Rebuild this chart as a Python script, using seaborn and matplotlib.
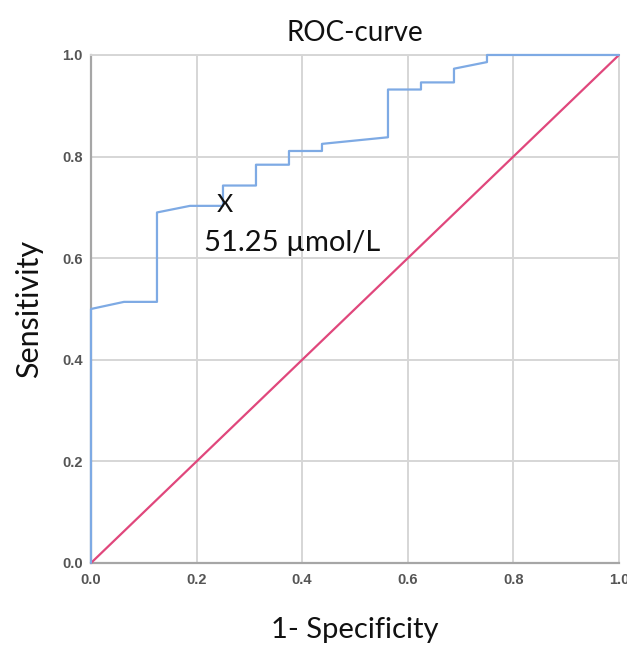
import matplotlib.pyplot as plt
import pandas as pd
import seaborn as sns

sns.set_theme(style="whitegrid")
plt.rcParams['font.family'] = ['Lato', 'DejaVu Sans']

# ROC curve (1 - specificity, sensitivity)
fpr = [0.0, 0.0, 0.0625, 0.125, 0.125, 0.1875, 0.25, 0.25, 0.3125, 0.3125,
       0.375, 0.375, 0.4375, 0.4375, 0.5625, 0.5625, 0.625, 0.625, 0.6875,
       0.6875, 0.75, 0.75, 1.0]
tpr = [0.0, 0.5, 0.514, 0.514, 0.69, 0.703, 0.703, 0.743, 0.743, 0.784,
       0.784, 0.811, 0.811, 0.825, 0.838, 0.932, 0.932, 0.946, 0.946,
       0.973, 0.986, 1.0, 1.0]

ref_line = [0.0, 1.0]

cutoff_x = 0.254
cutoff_y = 0.705
cutoff_label = "51.25 \u00b5mol/L"

ticks = [0.0, 0.2, 0.4, 0.6, 0.8, 1.0]
tick_labels = ["0.0", "0.2", "0.4", "0.6", "0.8", "1.0"]

roc = pd.DataFrame({"fpr": fpr, "tpr": tpr})

fig = plt.figure(figsize=(6.27, 6.46), dpi=100)
ax = fig.add_axes([0.1451, 0.1285, 0.8421, 0.7864])

sns.lineplot(
    x=ref_line,
    y=ref_line,
    color="#e0477c",
    linewidth=1.6,
    zorder=3,
    clip_on=False,
    ax=ax
)

sns.lineplot(
    data=roc,
    x="fpr",
    y="tpr",
    sort=False,
    estimator=None,
    color="#7eaae4",
    linewidth=1.6,
    zorder=3,
    clip_on=False,
    ax=ax
)

ax.text(cutoff_x, cutoff_y, "X", fontsize=18, ha="center", va="center",
        color="#111111")
ax.text(0.214, 0.63, cutoff_label, fontsize=21, ha="left", va="center",
        color="#111111")

ax.set_xlim(0, 1)
ax.set_ylim(0, 1)
ax.set_xticks(ticks)
ax.set_yticks(ticks)
ax.set_xticklabels(tick_labels, family="Liberation Sans", fontweight="bold",
                   fontsize=10.5, color="#555555")
ax.set_yticklabels(tick_labels, family="Liberation Sans", fontweight="bold",
                   fontsize=10.5, color="#555555")
ax.tick_params(axis="x", length=0, pad=7)
ax.tick_params(axis="y", length=0, pad=6)

ax.grid(True, color="#d6d6d6", linewidth=1.4)
for side in ["top", "right"]:
    ax.spines[side].set_color("#d6d6d6")
    ax.spines[side].set_linewidth(1.4)
for side in ["left", "bottom"]:
    ax.spines[side].set_color("#a6a6a6")
    ax.spines[side].set_linewidth(1.6)

ax.set_title("ROC-curve", fontsize=20, color="#111111", pad=10)
ax.set_xlabel("1- Specificity", fontsize=21, color="#111111", labelpad=22)
ax.set_ylabel("Sensitivity", fontsize=22, color="#111111", labelpad=14)

fig.savefig("out.png", dpi=100)
